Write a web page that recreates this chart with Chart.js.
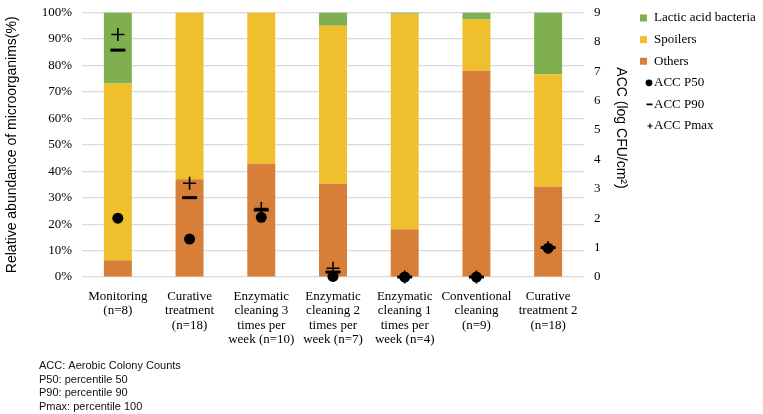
<!DOCTYPE html>
<html>
<head>
<meta charset="utf-8">
<script src="https://cdn.jsdelivr.net/npm/chart.js@4.4.0/dist/chart.umd.min.js"></script>
<style>
  body { margin: 0; background: #fff; }
  #wrap { width: 763px; height: 414px; position: relative; }
</style>
</head>
<body>
<div id="wrap"><canvas id="myChart"></canvas></div>
<script>
const categories = [
  ["Monitoring", "(n=8)"],
  ["Curative", "treatment", "(n=18)"],
  ["Enzymatic", "cleaning 3", "times per", "week (n=10)"],
  ["Enzymatic", "cleaning 2", "times per", "week (n=7)"],
  ["Enzymatic", "cleaning 1", "times per", "week (n=4)"],
  ["Conventional", "cleaning", "(n=9)"],
  ["Curative", "treatment 2", "(n=18)"]
];
const others = [6.3, 37.0, 42.8, 35.3, 18.1, 78.0, 34.1];
const spoilers = [66.9, 63.0, 57.2, 59.7, 81.4, 19.4, 42.6];
const lactic = [26.8, 0, 0, 5.0, 0.5, 2.6, 23.3];
const accP50 = [2.0, 1.29, 2.03, 0.02, 0, 0, 0.98];
const accP90 = [7.72, 2.7, 2.28, 0.17, 0, 0, 1.0];
const accPmax = [8.25, 3.19, 2.33, 0.3, 0, 0, 1.0];
const notes = ["ACC: Aerobic Colony Counts", "P50: percentile 50", "P90: percentile 90", "Pmax: percentile 100"];

const green = "#7FAF4F";
const yellow = "#F0BF2E";
const orange = "#D77E38";
const serif = "Liberation Serif";
const sans = "Liberation Sans";

// legend, right axis title and footnotes
const extras = {
  id: "extras",
  afterDraw(chart) {
    const ctx = chart.ctx;
    ctx.save();
    ctx.fillStyle = "#000";
    ctx.strokeStyle = "#000";

    // right axis title
    ctx.save();
    ctx.translate(621, 128);
    ctx.rotate(Math.PI / 2);
    ctx.font = "14px " + sans;
    ctx.textAlign = "center";
    ctx.textBaseline = "middle";
    ctx.fillText("ACC (log CFU/cm²)", 0, 0);
    ctx.restore();

    // legend
    const items = [
      { t: "Lactic acid bacteria", c: green, k: "box" },
      { t: "Spoilers", c: yellow, k: "box" },
      { t: "Others", c: orange, k: "box" },
      { t: "ACC P50", k: "dot" },
      { t: "ACC P90", k: "dash" },
      { t: "ACC Pmax", k: "plus" }
    ];
    ctx.font = "13px " + serif;
    ctx.textBaseline = "middle";
    ctx.textAlign = "left";
    let y = 18;
    for (let it of items) {
      if (it.k == "box") {
        ctx.fillStyle = it.c;
        ctx.fillRect(640, y - 3.5, 7, 7);
      } else if (it.k == "dot") {
        ctx.fillStyle = "#000";
        ctx.beginPath();
        ctx.arc(649, y, 3.4, 0, Math.PI * 2);
        ctx.fill();
      } else if (it.k == "dash") {
        ctx.lineWidth = 1.8;
        ctx.beginPath();
        ctx.moveTo(646.5, y);
        ctx.lineTo(652.5, y);
        ctx.stroke();
      } else {
        ctx.lineWidth = 1.2;
        ctx.beginPath();
        ctx.moveTo(647.5, y);
        ctx.lineTo(652.5, y);
        ctx.moveTo(650, y - 2.5);
        ctx.lineTo(650, y + 2.5);
        ctx.stroke();
      }
      ctx.fillStyle = "#000";
      ctx.fillText(it.t, 654, y);
      y += 21.6;
    }

    // footnotes
    ctx.font = "11px " + sans;
    ctx.fillStyle = "#111";
    let ny = 366;
    for (let n of notes) {
      ctx.fillText(n, 39, ny);
      ny += 13.5;
    }
    ctx.restore();
  }
};

const ctx = document.getElementById("myChart");

new Chart(ctx, {
  type: "bar",
  data: {
    labels: categories,
    datasets: [
      { type: "line", label: "ACC P50", data: accP50, yAxisID: "y1", showLine: false, clip: false,
        pointStyle: "circle", pointRadius: 5.5, pointBackgroundColor: "#000", pointBorderColor: "#000", pointBorderWidth: 0, order: 1 },
      { type: "line", label: "ACC P90", data: accP90, yAxisID: "y1", showLine: false, clip: false,
        pointStyle: "line", pointRadius: 7.5, pointBorderColor: "#000", pointBorderWidth: 3, order: 1 },
      { type: "line", label: "ACC Pmax", data: accPmax, yAxisID: "y1", showLine: false, clip: false,
        pointStyle: "cross", pointRadius: 6.5, pointBorderColor: "#000", pointBorderWidth: 1.6, order: 1 },
      { label: "Others", data: others, backgroundColor: orange, yAxisID: "y", order: 2 },
      { label: "Spoilers", data: spoilers, backgroundColor: yellow, yAxisID: "y", order: 2 },
      { label: "Lactic acid bacteria", data: lactic, backgroundColor: green, yAxisID: "y", order: 2 }
    ]
  },
  options: {
    responsive: true,
    maintainAspectRatio: false,
    animation: false,
    events: [],
    layout: { padding: { top: 12.5, left: 0, right: 0, bottom: 0 } },
    datasets: { bar: { barPercentage: 0.39, categoryPercentage: 1 } },
    plugins: { legend: { display: false }, tooltip: { enabled: false } },
    scales: {
      x: {
        stacked: true,
        grid: { display: false },
        border: { display: false },
        ticks: { color: "#000", font: { family: serif, size: 13, lineHeight: 1.12 }, maxRotation: 0, autoSkip: false, padding: 4 },
        afterFit(s) { s.height = 137; }
      },
      y: {
        stacked: true,
        min: 0,
        max: 100,
        ticks: { stepSize: 10, color: "#000", font: { family: serif, size: 13 }, padding: 10,
          callback: function (v) { return v + "%"; } },
        grid: { color: "#D9D9D9", lineWidth: 1.2, drawTicks: false },
        border: { display: false },
        title: { display: true, text: "Relative abundance of microorganims(%)", color: "#000",
          font: { family: sans, size: 14 }, padding: { top: 4, bottom: 0 } },
        afterFit(s) { s.width = 82; s.paddingTop = 0; s.paddingBottom = 0; }
      },
      y1: {
        position: "right",
        min: 0,
        max: 9,
        ticks: { stepSize: 1, color: "#000", font: { family: serif, size: 13 }, padding: 10 },
        grid: { display: false, drawTicks: false },
        border: { display: false },
        afterFit(s) { s.width = 179; s.paddingTop = 0; s.paddingBottom = 0; }
      }
    }
  },
  plugins: [extras]
});
</script>
</body>
</html>
